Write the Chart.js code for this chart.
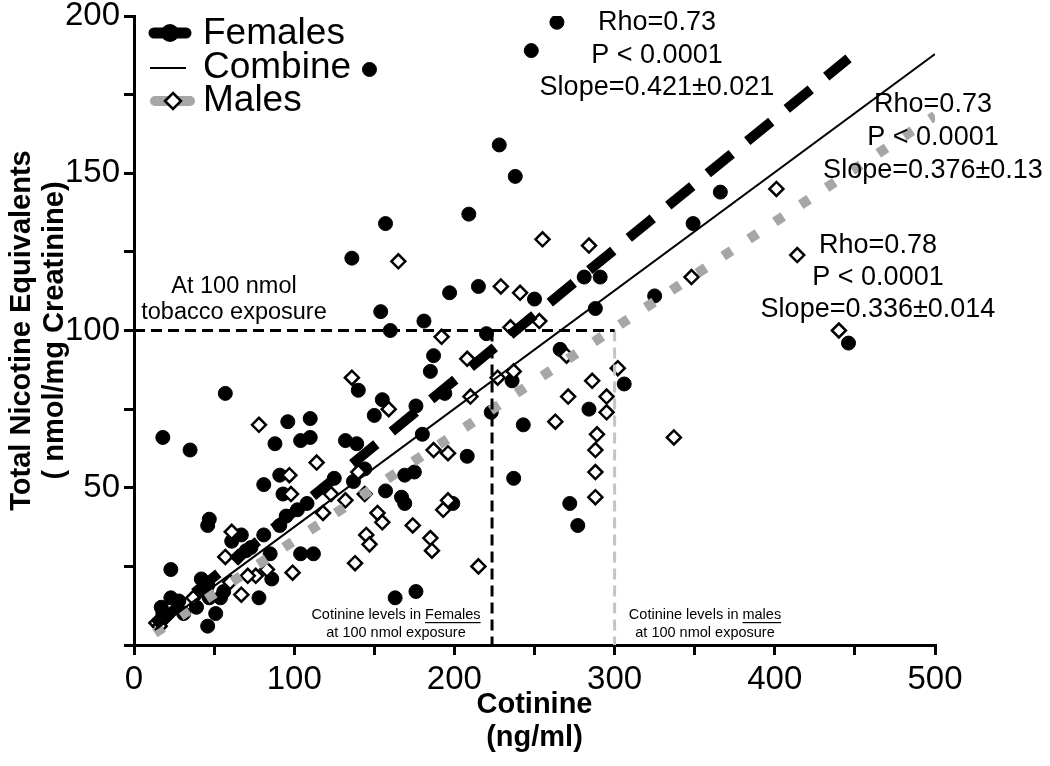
<!DOCTYPE html>
<html>
<head>
<meta charset="utf-8">
<script src="https://cdn.jsdelivr.net/npm/chart.js@4.4.0/dist/chart.umd.min.js"></script>
<style>
  html, body { margin: 0; padding: 0; background: #fff; }
  #wrap { width: 1050px; height: 766px; }
</style>
</head>
<body>
<div id="wrap"><canvas id="grafico" width="1050" height="766"></canvas></div>
<script>
// Cotinine (ng/ml) vs total nicotine equivalents
const femalesX = [264, 248, 147, 228, 238, 209, 157, 136, 154, 160, 197, 215, 181, 220, 187, 185, 140, 194, 155, 150,
  176, 223, 180, 132, 139, 208, 57, 96, 110, 18, 35, 88, 104, 110, 91, 81, 93, 47, 46, 95,
  102, 108, 91, 67, 61, 81, 73, 23, 104, 112, 85, 86, 78, 46, 45, 56, 23, 17, 18, 51,
  46, 39, 31, 47, 54, 144, 169, 175, 157, 167, 169, 199, 163, 176, 137, 125, 28, 42, 70, 349,
  281, 291, 325, 250, 288, 266, 236, 306, 284, 243, 237, 272, 277, 446, 366];
const femalesY = [198, 189, 183, 159, 149, 137, 134, 123, 106, 100, 112, 114, 103, 99, 92, 87, 81, 80, 78, 73,
  76, 74, 67, 65, 64, 60, 80, 71, 72, 66, 62, 64, 65, 66, 54, 51, 48, 40, 38, 41,
  43, 45, 38, 35, 33, 35, 31, 24, 29, 29, 29, 21, 15, 19, 17, 17, 15, 12, 10, 10,
  6, 12, 10, 15, 15, 56, 54, 55, 49, 47, 45, 45, 15, 17, 52, 53, 14, 21, 30, 134,
  117, 117, 111, 110, 107, 94, 84, 83, 75, 70, 53, 45, 38, 96, 144];

const malesX = [414, 401, 440, 348, 337, 255, 284, 229, 241, 253, 235, 270, 237, 302, 286, 295, 271, 295, 263, 289,
  288, 288, 288, 165, 192, 208, 136, 159, 210, 227, 187, 196, 78, 114, 97, 98, 61, 57, 65, 99,
  76, 83, 67, 60, 37, 14, 20, 140, 144, 196, 193, 152, 155, 174, 145, 147, 185, 186, 138, 215,
  123, 132, 118, 16, 71];
const malesY = [124, 145, 100, 117, 66, 129, 127, 114, 112, 103, 101, 92, 87, 88, 84, 79, 79, 74, 71, 67,
  62, 55, 47, 122, 98, 91, 85, 75, 79, 85, 62, 61, 70, 58, 54, 48, 36, 28, 28, 23,
  22, 24, 16, 20, 15, 7, 9, 55, 48, 46, 43, 42, 39, 38, 35, 32, 34, 30, 26, 25,
  48, 46, 42, 6, 22];

// regression lines: start and end
const fitFemalesX = [13, 446];
const fitFemalesY = [6.3, 186.5];
const fitCombinedX = [13, 500];
const fitCombinedY = [4.8, 187.9];
const fitMalesX = [13, 500];
const fitMalesY = [3.8, 168.3];

// cotinine at 100 nmol exposure
const exposure = 100;
const cotFemales = 223.5;
const cotMales = 300;

const xLabels = [0, 100, 200, 300, 400, 500];
const yLabels = [50, 100, 150, 200];

const statsFemales = ["Rho=0.73", "P < 0.0001", "Slope=0.421±0.021"];
const statsCombined = ["Rho=0.73", "P < 0.0001", "Slope=0.376±0.13"];
const statsMales = ["Rho=0.78", "P < 0.0001", "Slope=0.336±0.014"];

const FONT = "'Liberation Sans', Arial, Helvetica, sans-serif";
const GRIS = "#a6a6a6";

const puntos = (xs, ys) => xs.map((x, i) => ({ x: x, y: ys[i] }));

const textos = {
  id: "textos",
  afterDraw(chart) {
    const ctx = chart.ctx;
    ctx.save();
    ctx.fillStyle = "#000";
    ctx.textBaseline = "middle";
    ctx.textAlign = "center";

    const bloque = (lineas, cx, cy, paso) => {
      lineas.forEach((t, i) => ctx.fillText(t, cx, cy + i * paso));
    };
    ctx.font = "27px " + FONT;
    bloque(statsFemales, 657, 23, 32.5);
    bloque(statsCombined, 933, 105, 33);
    bloque(statsMales, 878, 246, 32);

    ctx.font = "23.5px " + FONT;
    bloque(["At 100 nmol", "tobacco exposure"], 234, 287, 26);

    // small notes with an underlined word
    ctx.font = "14.5px " + FONT;
    const nota = (antes, palabra, cx, cy) => {
      const w0 = ctx.measureText(antes).width;
      const w1 = ctx.measureText(palabra).width;
      const x0 = cx - (w0 + w1) / 2;
      ctx.textAlign = "left";
      ctx.fillText(antes + palabra, x0, cy);
      ctx.fillRect(x0 + w0, cy + 7, w1, 1.2);
      ctx.textAlign = "center";
      ctx.fillText("at 100 nmol exposure", cx, cy + 18);
    };
    nota("Cotinine levels in ", "Females", 396, 615);
    nota("Cotinine levels in ", "males", 705, 615);

    // legend
    ctx.lineCap = "round";
    ctx.strokeStyle = "#000";
    ctx.lineWidth = 11;
    ctx.beginPath(); ctx.moveTo(154, 33); ctx.lineTo(186, 33); ctx.stroke();
    ctx.beginPath(); ctx.arc(170, 33, 9, 0, Math.PI * 2); ctx.fill();

    ctx.lineCap = "butt";
    ctx.lineWidth = 2;
    ctx.beginPath(); ctx.moveTo(150, 68); ctx.lineTo(186, 68); ctx.stroke();

    ctx.lineCap = "round";
    ctx.strokeStyle = GRIS;
    ctx.lineWidth = 10;
    ctx.beginPath(); ctx.moveTo(155, 101); ctx.lineTo(190, 101); ctx.stroke();
    ctx.fillStyle = "#fff";
    ctx.strokeStyle = "#000";
    ctx.lineWidth = 2.5;
    ctx.beginPath();
    ctx.moveTo(173, 93); ctx.lineTo(181, 101); ctx.lineTo(173, 109); ctx.lineTo(165, 101);
    ctx.closePath(); ctx.fill(); ctx.stroke();

    ctx.fillStyle = "#000";
    ctx.textAlign = "left";
    ctx.font = "37px " + FONT;
    ctx.fillText("Females", 203, 34);
    ctx.fillText("Combine", 203, 68);
    ctx.fillText("Males", 203, 101);
    ctx.restore();
  }
};

const ctx = document.getElementById("grafico").getContext("2d");

const grafico = new Chart(ctx, {
  type: "scatter",
  data: {
    datasets: [
      {
        label: "100 nmol",
        data: [{ x: 0, y: exposure }, { x: cotMales, y: exposure }],
        showLine: true, pointRadius: 0, borderColor: "#000", borderWidth: 3, borderDash: [11, 6], order: 0
      },
      {
        label: "Females at 100 nmol",
        data: [{ x: cotFemales, y: exposure }, { x: cotFemales, y: 0 }],
        showLine: true, pointRadius: 0, borderColor: "#000", borderWidth: 3, borderDash: [11, 6], order: 0
      },
      {
        label: "Males at 100 nmol",
        data: [{ x: cotMales, y: exposure }, { x: cotMales, y: 0 }],
        showLine: true, pointRadius: 0, borderColor: "#c4c4c4", borderWidth: 3, borderDash: [11, 6], order: 0
      },
      {
        label: "Females fit",
        data: puntos(fitFemalesX, fitFemalesY),
        showLine: true, pointRadius: 0, borderColor: "#000", borderWidth: 10, borderDash: [31, 20], order: 0
      },
      {
        label: "Combine",
        data: puntos(fitCombinedX, fitCombinedY),
        showLine: true, pointRadius: 0, borderColor: "#000", borderWidth: 2, order: 0
      },
      {
        label: "Males fit",
        data: puntos(fitMalesX, fitMalesY),
        showLine: true, pointRadius: 0, borderColor: GRIS, borderWidth: 10, borderDash: [10, 21], order: 0
      },
      {
        label: "Males",
        data: puntos(malesX, malesY),
        pointStyle: "rectRot", pointRadius: 7, borderWidth: 2.5,
        borderColor: "#000", backgroundColor: "#fff", order: 1
      },
      {
        label: "Females",
        data: puntos(femalesX, femalesY),
        pointStyle: "circle", pointRadius: 7, borderWidth: 1,
        borderColor: "#000", backgroundColor: "#000", order: 2
      }
    ]
  },
  options: {
    responsive: false,
    animation: false,
    events: [],
    layout: { padding: { top: 16, right: 115, left: 0, bottom: 0 } },
    plugins: { legend: { display: false }, tooltip: { enabled: false } },
    scales: {
      x: {
        type: "linear", min: 0, max: 500,
        afterFit: (s) => { s.height = 121; },
        ticks: {
          stepSize: 50, autoSkip: false, maxRotation: 0, padding: 8, color: "#000",
          font: { family: FONT, size: 33, lineHeight: 1.0 },
          callback: (v) => (xLabels.includes(v) ? v : "")
        },
        grid: { drawOnChartArea: false, tickLength: 10, lineWidth: 3, color: "#000" },
        border: { width: 3, color: "#000" },
        title: {
          display: true, text: ["Cotinine", "(ng/ml)"], color: "#000",
          font: { family: FONT, size: 29, weight: "bold", lineHeight: 1.15 },
          padding: { top: 0, bottom: 11 }
        }
      },
      y: {
        type: "linear", min: 0, max: 200,
        afterFit: (s) => { s.width = 134; s.paddingTop = 0; s.paddingBottom = 0; },
        ticks: {
          stepSize: 25, autoSkip: false, padding: 4, color: "#000",
          font: { family: FONT, size: 33, lineHeight: 0.75 },
          callback: (v) => (yLabels.includes(v) ? v : "")
        },
        grid: { drawOnChartArea: false, tickLength: 10, lineWidth: 3, color: "#000" },
        border: { width: 3, color: "#000" },
        title: {
          display: true, text: ["Total Nicotine Equivalents", "( nmol/mg Creatinine)"], color: "#000",
          font: { family: FONT, size: 29, weight: "bold", lineHeight: 1.15 },
          padding: { top: 5, bottom: 0 }
        }
      }
    }
  },
  plugins: [textos]
});
</script>
</body>
</html>
